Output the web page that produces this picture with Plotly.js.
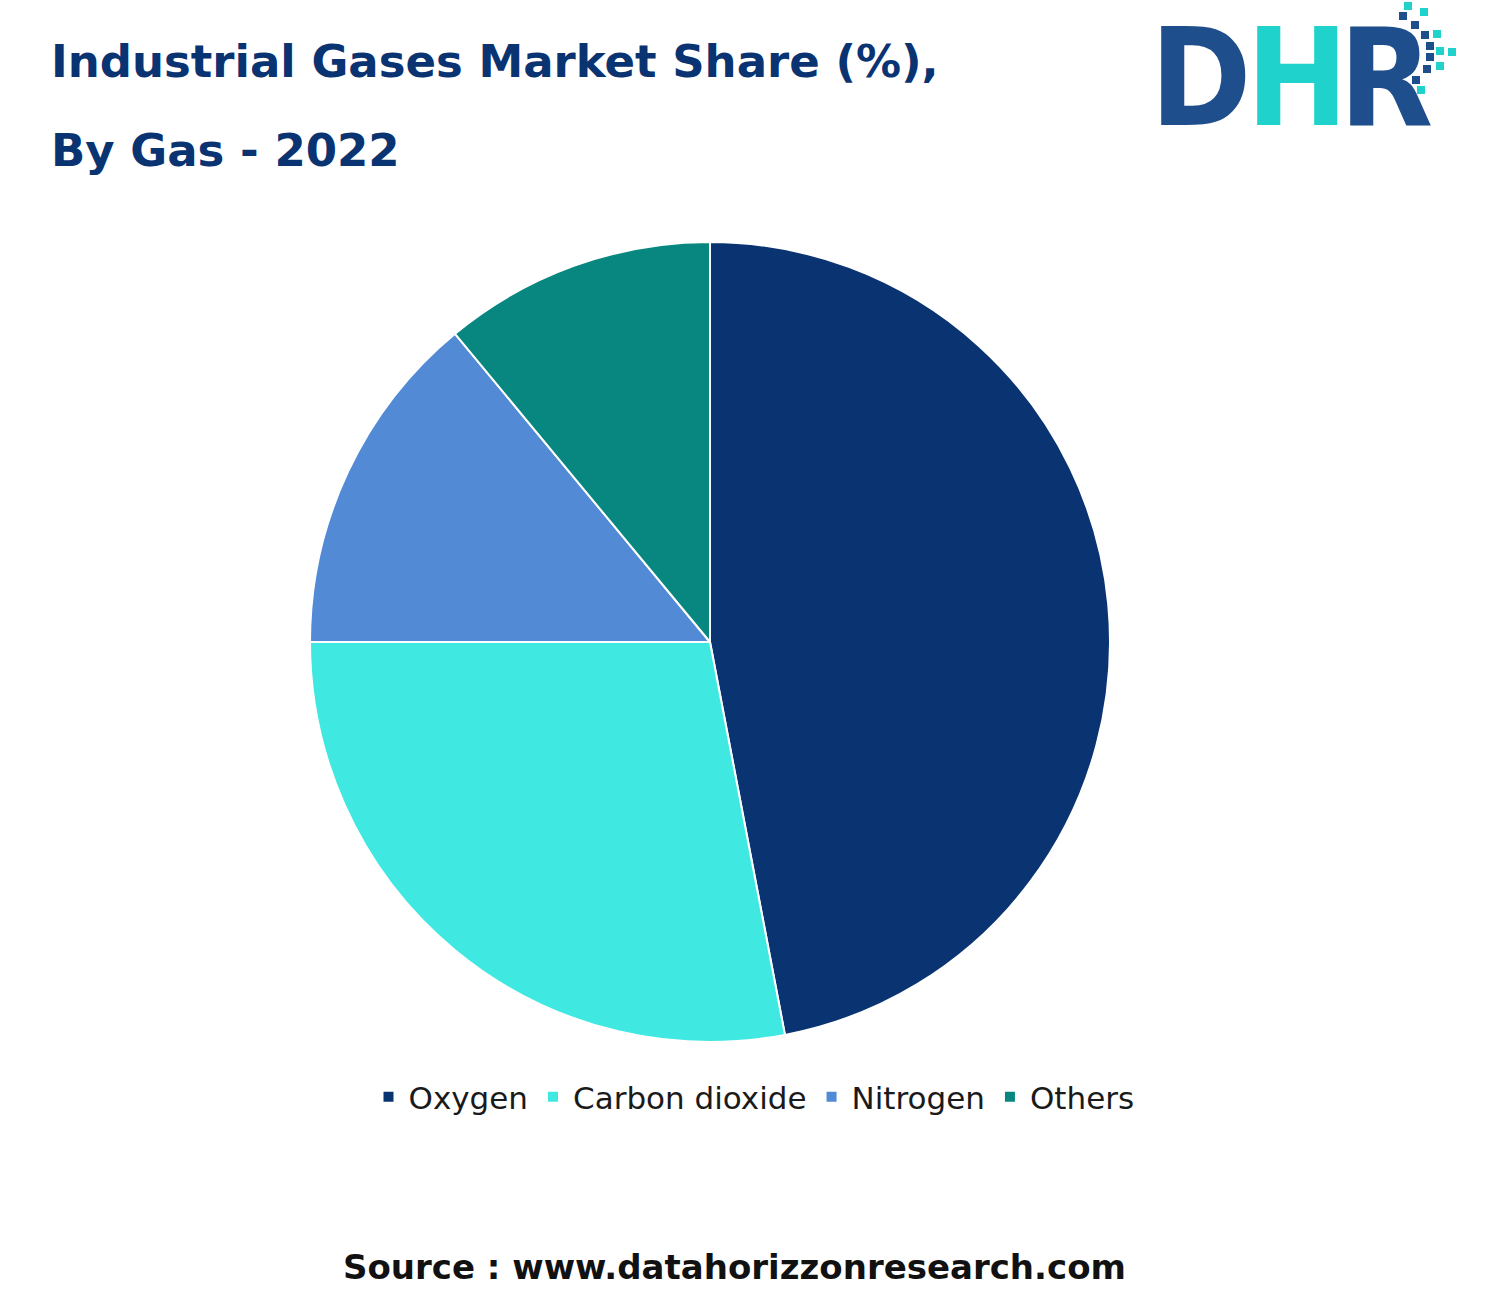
<!DOCTYPE html>
<html>
<head>
<meta charset="utf-8">
<script src="https://cdn.plot.ly/plotly-3.0.1.min.js"></script>
<style>html,body{margin:0;padding:0;background:#fff;}#chart{width:1508px;height:1311px;}</style>
</head>
<body>
<div id="chart"></div>
<script>
const gases = ["Oxygen", "Carbon dioxide", "Nitrogen", "Others"];
const shares = [47, 28, 14, 11];
const sliceColors = ["#0a3372", "#40e8e2", "#528ad5", "#07877f"];

const titleLines = ["Industrial Gases Market Share (%),", "By Gas - 2022"];
const sourceText = "Source : www.datahorizzonresearch.com";

const W = 1508, H = 1311;
const px = x => x / W;
const py = y => 1 - y / H;

const logoSquares = [
  [1408,6,'#1fd3cc'],[1424,12,'#1fd3cc'],[1403,16,'#1f4e8c'],[1415,25,'#1f4e8c'],
  [1425,35,'#1f4e8c'],[1437,34,'#1fd3cc'],[1430,46,'#1f4e8c'],[1440,51,'#1fd3cc'],[1452,52,'#1fd3cc'],
  [1430,57,'#1f4e8c'],[1440,66,'#1fd3cc'],[1427,69,'#1f4e8c'],[1416,80,'#1f4e8c'],[1421,90,'#1fd3cc']
];
const shapes = logoSquares.map(s => ({
  type: 'rect', xref: 'paper', yref: 'paper',
  x0: px(s[0]-4), x1: px(s[0]+4), y0: py(s[1]+4), y1: py(s[1]-4),
  fillcolor: s[2], line: {width: 0}
}));

const data = [{
  type: 'pie',
  labels: gases,
  values: shares,
  marker: {colors: sliceColors, line: {color: '#ffffff', width: 2}},
  sort: false,
  direction: 'clockwise',
  rotation: 0,
  textinfo: 'none',
  hoverinfo: 'label+percent',
  domain: {x: [px(310), px(1110)], y: [py(1042), py(242)]}
}];

const logoFont = 'Liberation Sans Narrow, Arial Narrow, DejaVu Sans Condensed, sans-serif';
const logoLetters = [['D', 1201, '#1f4e8c'], ['H', 1297, '#1fd3cc'], ['R', 1386, '#1f4e8c']];

const annotations = [
  {text: '<b>' + titleLines[0] + '</b>', xref: 'paper', yref: 'paper', x: px(49), y: py(62), xanchor: 'left', yanchor: 'middle', showarrow: false,
   font: {family: 'DejaVu Sans, sans-serif', size: 45, color: '#0a3372'}},
  {text: '<b>' + titleLines[1] + '</b>', xref: 'paper', yref: 'paper', x: px(49), y: py(151), xanchor: 'left', yanchor: 'middle', showarrow: false,
   font: {family: 'DejaVu Sans, sans-serif', size: 45, color: '#0a3372'}},
  {text: '<b>' + sourceText + '</b>', xref: 'paper', yref: 'paper', x: px(734), y: py(1267), xanchor: 'center', yanchor: 'middle', showarrow: false,
   font: {family: 'DejaVu Sans, sans-serif', size: 34, color: '#111111'}}
].concat(logoLetters.map(l => ({
  text: '<b>' + l[0] + '</b>', xref: 'paper', yref: 'paper', x: px(l[1]), y: py(78), xanchor: 'center', yanchor: 'middle', showarrow: false,
  borderpad: 0, font: {family: logoFont, size: 136, color: l[2]}
})));

const layout = {
  width: W, height: H,
  margin: {l: 0, r: 0, t: 0, b: 0},
  paper_bgcolor: '#ffffff',
  showlegend: true,
  legend: {
    orientation: 'h', x: 0.5, xanchor: 'center', y: py(1097), yanchor: 'middle',
    font: {family: 'DejaVu Sans, sans-serif', size: 31, color: '#1a1a1a'},
    itemwidth: 30, traceorder: 'normal'
  },
  shapes: shapes,
  annotations: annotations
};

Plotly.newPlot('chart', data, layout, {displayModeBar: false, staticPlot: true});
</script>
</body>
</html>
